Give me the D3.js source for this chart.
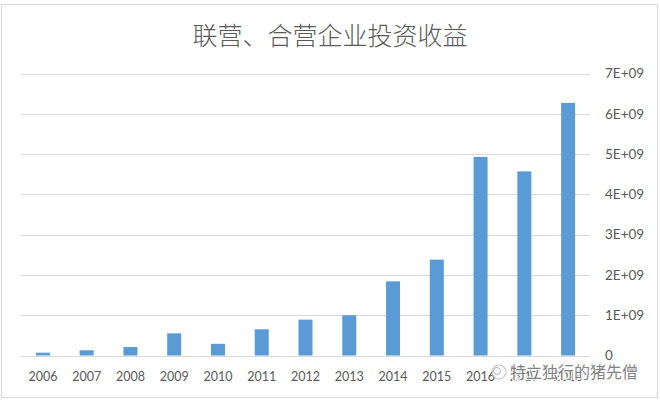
<!DOCTYPE html>
<html><head><meta charset="utf-8">
<script src="https://cdn.jsdelivr.net/npm/d3@7/dist/d3.min.js"></script>
<style>
html,body{margin:0;padding:0;background:#fff;}
svg{display:block;}
</style></head>
<body>
<svg id="chart" width="660" height="402"></svg>
<script>
const title = "联营、合营企业投资收益";
const years = ["2006","2007","2008","2009","2010","2011","2012","2013","2014","2015","2016","2017","2018"];
const values = [0.07e9, 0.13e9, 0.21e9, 0.55e9, 0.29e9, 0.65e9, 0.89e9, 1.0e9, 1.84e9, 2.38e9, 4.93e9, 4.57e9, 6.27e9];
const yTicks = [0, 1e9, 2e9, 3e9, 4e9, 5e9, 6e9, 7e9];
const yTickLabels = ["0","1E+09","2E+09","3E+09","4E+09","5E+09","6E+09","7E+09"];
const watermark = "特立独行的猪先僧";

const svg = d3.select("#chart");
const plot = {left: 21, right: 590, top: 73.5, bottom: 355.5};

svg.append("rect").attr("x",1.5).attr("y",4.5).attr("width",656).attr("height",393)
  .attr("fill","#fff").attr("stroke","#d9d9d9").attr("stroke-width",1);

svg.append("text").attr("x",330).attr("y",45).attr("text-anchor","middle")
  .attr("font-family","'Noto Sans CJK SC'").attr("font-weight",300).attr("font-size",25).attr("fill","#595959")
  .text(title);

const x = d3.scaleBand().domain(years).range([plot.left, plot.right]).paddingInner(0.68).paddingOuter(0.34);
const y = d3.scaleLinear().domain([0, 7e9]).range([plot.bottom, plot.top]);

// gridlines
svg.append("g").selectAll("line").data(yTicks.slice(1)).join("line")
  .attr("x1",plot.left).attr("x2",plot.right)
  .attr("y1",d=>Math.round(y(d))+0.5).attr("y2",d=>Math.round(y(d))+0.5)
  .attr("stroke","#d9d9d9").attr("stroke-width",1);

// bars
svg.append("g").selectAll("rect").data(values).join("rect")
  .attr("x",(d,i)=>x(years[i])).attr("width",x.bandwidth())
  .attr("y",d=>y(d)).attr("height",d=>y(0)-y(d))
  .attr("fill","#5b9bd5");

// baseline
svg.append("line").attr("x1",plot.left).attr("x2",plot.right)
  .attr("y1",Math.round(y(0))+0.5).attr("y2",Math.round(y(0))+0.5)
  .attr("stroke","#d9d9d9").attr("stroke-width",1);

// y axis (right) labels
const yAxis = d3.axisRight(y).tickValues(yTicks).tickSize(0).tickPadding(0)
  .tickFormat((d,i)=>yTickLabels[i]);
const gy = svg.append("g").attr("transform",`translate(605,0)`).call(yAxis);
gy.select(".domain").remove();
gy.selectAll("text").attr("font-family","Lato").attr("font-size",13.5).attr("fill","#595959");

// x axis labels
const xAxis = d3.axisBottom(x).tickSize(0).tickPadding(0);
const gx = svg.append("g").attr("transform",`translate(0,372)`).call(xAxis);
gx.select(".domain").remove();
gx.selectAll("text").attr("font-family","Lato").attr("font-size",12.5).attr("fill","#595959").attr("dy","0.71em");

// watermark
const wm = svg.append("g").attr("opacity",0.85);
wm.append("circle").attr("cx",499).attr("cy",372).attr("r",7).attr("fill","#fff").attr("stroke","#bbb").attr("stroke-width",1.2);
wm.append("circle").attr("cx",497).attr("cy",371).attr("r",3.5).attr("fill","none").attr("stroke","#aaa").attr("stroke-width",1);
wm.append("text").attr("x",510).attr("y",378).attr("font-family","'Noto Sans CJK SC'").attr("font-size",16)
  .attr("fill","#6e6e6e").attr("stroke","#fff").attr("stroke-width",2.5).attr("paint-order","stroke")
  .text(watermark);
</script>
</body></html>
